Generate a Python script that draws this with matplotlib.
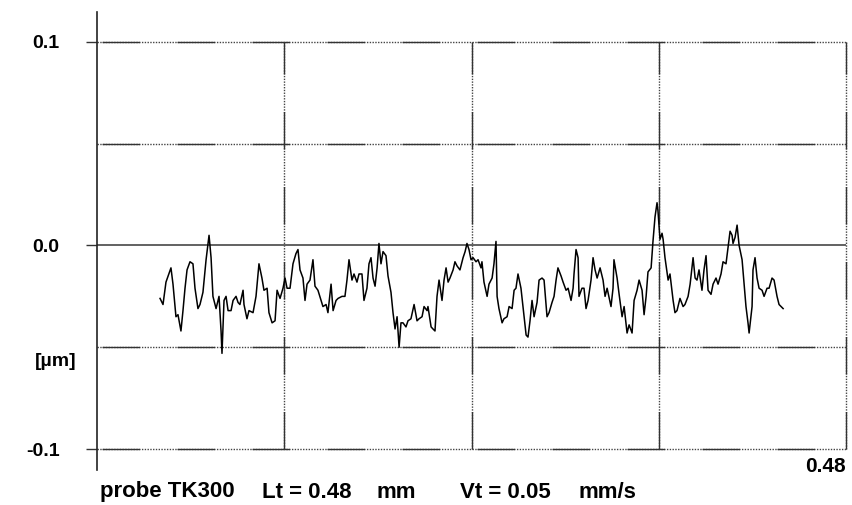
import matplotlib
matplotlib.use("Agg")
import matplotlib.pyplot as plt
import numpy as np

# profile trace: position along the track (um) and height (um)
pos_um = [40.4, 42.3, 44.2, 47.4, 48.7, 50.6, 51.9, 53.8, 55.1, 56.4, 57.7, 59.6, 61.5, 62.8, 64.7,
          66.0, 67.9, 69.9, 71.8, 73.1, 74.3, 76.3, 78.2, 79.5, 80.1, 81.4, 82.7, 84.0, 85.9, 87.2,
          89.1, 90.4, 91.6, 93.6, 94.2, 96.1, 97.4, 100.0, 101.9, 103.8, 105.7, 107.0, 109.0, 110.2,
          112.2, 114.1, 115.4, 117.3, 119.2, 120.5, 121.8, 123.7, 125.6, 127.5, 128.8,
          130.1, 132.0, 133.3, 134.6, 136.5, 138.4, 139.7, 141.6, 143.6, 144.8, 146.8, 148.0, 150.0,
          151.3, 153.2, 154.5, 157.0, 158.9, 160.2, 161.5, 163.4, 164.7, 166.6, 167.9, 169.8, 171.1,
          173.0, 174.3, 175.6, 176.9, 178.2, 179.5, 180.7, 182.0, 183.3, 185.2, 186.5, 188.4, 189.7,
          191.0, 192.3, 193.6, 194.8, 196.1, 198.0, 199.3, 201.2, 203.2, 205.1, 206.4, 208.3, 209.6,
          211.5, 212.1, 214.1, 215.3, 216.6, 217.9, 219.2, 221.1, 222.4, 223.7, 225.0,
          226.2, 228.2, 229.4, 230.7, 232.6, 234.6, 235.9, 237.1, 238.4, 239.7, 241.0, 242.9, 244.2,
          246.1, 246.7, 248.0, 250.0, 251.2, 253.2, 254.4, 255.7, 256.4, 257.6, 259.6, 260.8, 262.8,
          264.1, 266.0, 267.3, 268.5, 269.8, 271.7, 273.0, 275.0, 276.2, 277.5, 278.8, 280.1, 282.0,
          283.3, 285.2, 286.5, 288.4, 289.7, 291.6, 292.9, 294.2, 295.4, 297.4, 298.7, 300.6, 301.9,
          303.8, 305.1, 305.7, 307.0, 308.3, 308.9, 310.8, 312.1, 313.4, 314.7, 316.6, 317.9, 319.2,
          320.5,
          322.4, 324.3, 325.6, 326.9, 329.4, 330.7, 331.3, 333.3, 334.6, 336.5, 337.8, 339.7, 341.0,
          342.9, 344.2, 346.1, 347.4, 349.3, 350.6, 351.9, 353.1, 355.1, 356.3, 357.6, 358.9, 359.5,
          360.8, 362.1, 362.8, 364.0, 366.0, 367.2, 369.2, 370.4, 371.7, 373.6, 375.6, 376.8, 378.8,
          380.1, 382.0, 383.3, 384.5, 385.8, 387.7, 389.0, 390.3, 391.6, 393.5, 394.8, 396.7, 398.0,
          399.9, 401.2, 403.1, 404.4, 405.7, 407.0, 407.6, 408.9, 410.2, 411.5, 413.4, 414.7, 415.9,
          417.2, 417.9, 419.8, 420.4, 421.7, 423.0, 424.3, 426.2, 427.5, 429.4, 430.7, 432.6, 433.9,
          435.8, 437.1, 439.7]
height_um = [-0.026, -0.029, -0.018, -0.011, -0.019, -0.035, -0.034, -0.042, -0.032, -0.021, -0.012,
             -0.008, -0.009, -0.021, -0.031, -0.029, -0.023, -0.007, 0.005, -0.006, -0.025, -0.031,
             -0.025, -0.042, -0.053, -0.027, -0.025, -0.032, -0.032, -0.027, -0.025, -0.028, -0.029,
             -0.022, -0.029, -0.036, -0.032, -0.033, -0.025, -0.009, -0.016, -0.022, -0.021, -0.033,
             -0.038, -0.037, -0.022, -0.026, -0.021, -0.016, -0.021, -0.021, -0.009, -0.004, -0.002,
             -0.012, -0.016, -0.027, -0.019, -0.017, -0.007, -0.020, -0.022, -0.027, -0.030, -0.029,
             -0.033, -0.019, -0.032, -0.027, -0.026, -0.025, -0.025, -0.017, -0.007, -0.017, -0.014,
             -0.018, -0.014, -0.014, -0.027, -0.021, -0.009, -0.006, -0.016, -0.020, -0.011, 0.001,
             -0.009, -0.003, -0.005, -0.015, -0.023, -0.033, -0.041, -0.035, -0.050, -0.038, -0.038,
             -0.040, -0.037, -0.036, -0.029, -0.037, -0.036, -0.035, -0.030, -0.032, -0.030, -0.040,
             -0.041, -0.042, -0.025, -0.017, -0.027, -0.017, -0.011, -0.018,
             -0.016, -0.012, -0.008, -0.010, -0.012, -0.006, -0.003, 0.001, -0.002, -0.007, -0.006,
             -0.008, -0.007, -0.011, -0.008, -0.018, -0.025, -0.019, -0.016, -0.009, 0.002, -0.025,
             -0.031, -0.038, -0.036, -0.035, -0.030, -0.031, -0.022, -0.021, -0.014, -0.021, -0.030,
             -0.044, -0.045, -0.037, -0.027, -0.035, -0.028, -0.017, -0.016, -0.017, -0.035, -0.033,
             -0.028, -0.025, -0.017, -0.011, -0.015, -0.018, -0.022, -0.021, -0.027, -0.021, -0.014,
             -0.002, -0.006, -0.025, -0.021, -0.021, -0.031, -0.027, -0.017, -0.006, -0.012, -0.016,
             -0.011, -0.017, -0.025, -0.021, -0.030, -0.021, -0.007, -0.016, -0.024, -0.035, -0.030,
             -0.043, -0.039, -0.043, -0.027, -0.022, -0.017, -0.022, -0.034, -0.025, -0.013, -0.011,
             0.002, 0.014, 0.021, 0.017, 0.003, 0.006, 0.003, -0.006, -0.017, -0.014, -0.027, -0.033,
             -0.032, -0.026, -0.030, -0.029, -0.025, -0.019, -0.006, -0.016, -0.017, -0.012, -0.022,
             -0.012, -0.005, -0.022, -0.024, -0.019, -0.016, -0.019, -0.014, -0.008, -0.009, -0.001,
             0.007, 0.005, 0.001, 0.004, 0.010, 0.000, -0.007, -0.019, -0.030, -0.038, -0.043, -0.030,
             -0.012, -0.006, -0.016, -0.021, -0.022, -0.025, -0.021, -0.021, -0.016, -0.017, -0.025,
             -0.029, -0.031]

x_grid = [0.12, 0.24, 0.36, 0.48]
y_grid = [-0.1, -0.05, 0.05, 0.1]
y_ticks = [-0.1, 0.0, 0.1]
y_tick_labels = ['-0.1', '0.0', '0.1']
length_mm = 0.48
footer_parts = ['probe TK300', 'Lt = 0.48', 'mm', 'Vt = 0.05', 'mm/s']

plt.rcParams['font.family'] = ['Liberation Sans', 'DejaVu Sans']

fig = plt.figure(figsize=(8.52, 5.05), dpi=100)
ax = fig.add_axes([97 / 852, 35 / 505, 749 / 852, 458 / 505])
ax.set_xlim(0, length_mm)
ax.set_ylim(-0.1103, 0.1147)

grid_col = '#333333'
# grid: long solid dashes alternating with fine dotted stretches
for yv in y_grid:
    ax.plot([0, length_mm], [yv, yv], color='#444444', lw=1.0, ls=(0, (1, 1)), clip_on=False)
    ax.plot([0, length_mm], [yv, yv], color=grid_col, lw=1.0, ls=(50.4, (27, 27)), clip_on=False)
for xv in x_grid:
    ax.plot([xv, xv], [-0.1, 0.1], color='#444444', lw=1.0, ls=(0, (1, 1)), clip_on=False)
    ax.plot([xv, xv], [-0.1, 0.1], color=grid_col, lw=1.0, ls=(0, (27, 27)), clip_on=False)
ax.axhline(0.0, color='#555555', lw=1.3)

x_mm = np.asarray(pos_um) / 1000.0
ax.plot(x_mm, height_um, color='black', lw=1.1)

for s in ['top', 'right', 'bottom']:
    ax.spines[s].set_visible(False)
ax.spines['left'].set_linewidth(1.2)
ax.spines['left'].set_color('#222222')

ax.set_xticks([])
ax.set_yticks(y_ticks)
ax.set_yticklabels(y_tick_labels, fontsize=14, fontweight='bold')
ax.tick_params(axis='y', length=8, width=1.0, color='#333333', pad=19)

ax.annotate('0.48', xy=(length_mm, -0.1), xytext=(0, -6), textcoords='offset points',
            ha='right', va='top', fontsize=15, fontweight='bold')
fig.text(35 / 852, (505 - 362) / 505, '[µm]', ha='left', va='center',
         fontsize=14, fontweight='bold')

# footer: pieces placed at the spacing of the original readout
footer_x = [100, 262, 376, 460, 579]
for txt, px in zip(footer_parts, footer_x):
    fig.text(px / 852, (505 - 492) / 505, txt, ha='left', va='center',
             fontsize=16, fontweight='bold')

fig.savefig('out.png', dpi=100)
